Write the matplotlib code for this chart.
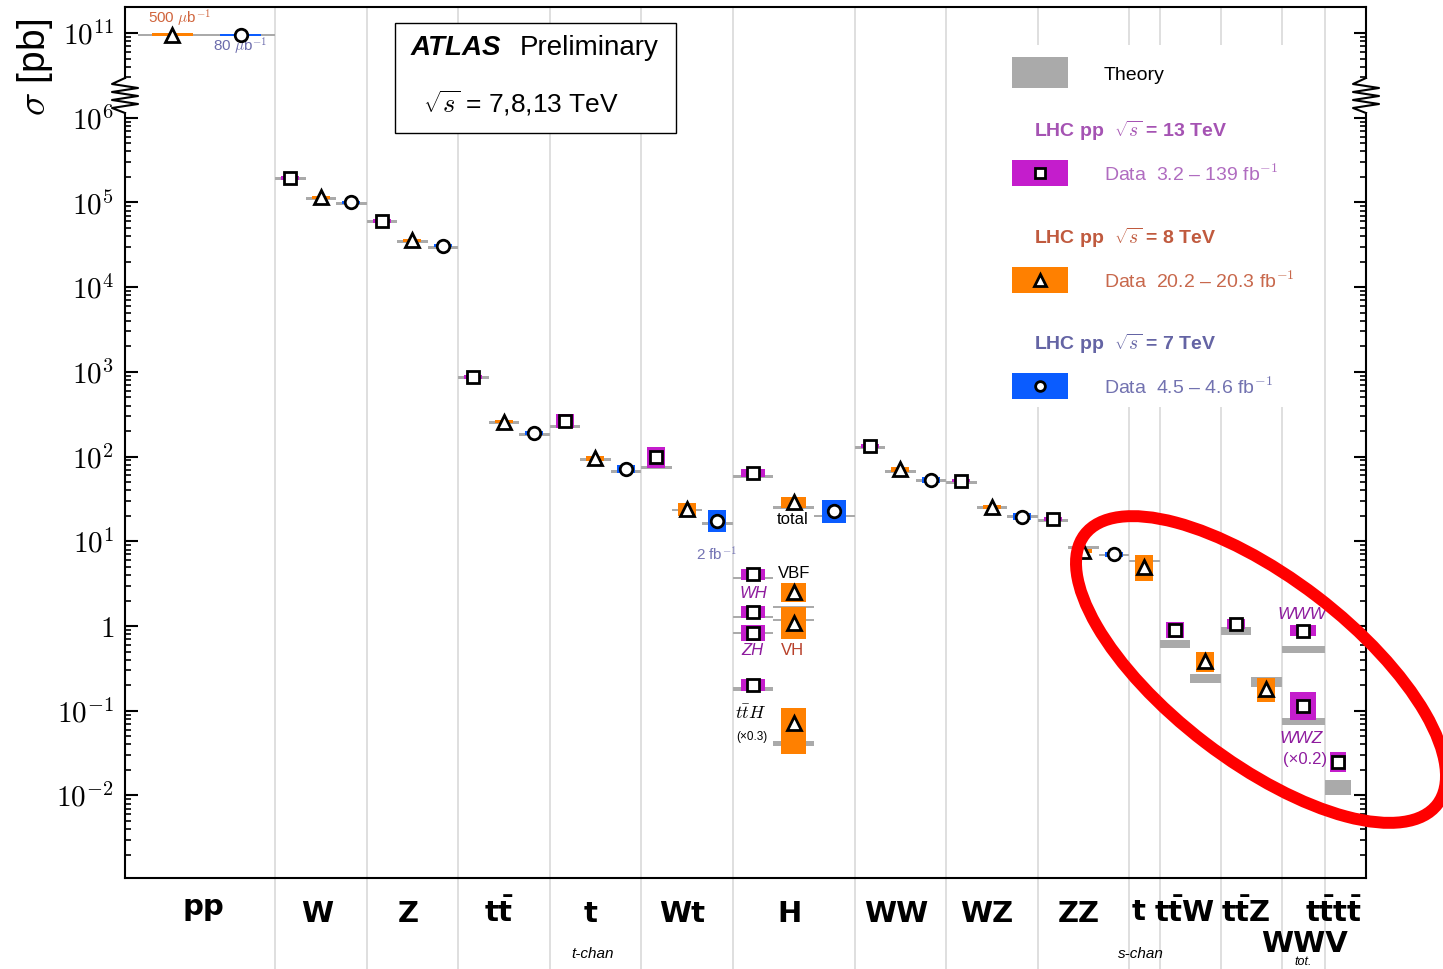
import numpy as np
import matplotlib
matplotlib.use("Agg")
import matplotlib.pyplot as plt
from matplotlib.patches import Rectangle, Ellipse
from matplotlib.lines import Line2D
from matplotlib.transforms import Affine2D
from matplotlib.ticker import FixedLocator, FixedFormatter, NullFormatter

plt.rcParams["mathtext.fontset"] = "cm"
plt.rcParams["font.family"] = ["Liberation Sans", "DejaVu Sans"]

DPI = 100
W_PX, H_PX = 1443, 969

THEORY = "#aaaaaa"
C13, C8, C7 = "#c41dcc", "#ff8000", "#0a5cff"

# x layout: process columns (left, right, number of slots), x unit ~30.5 px
COLS = {
    "pp": (0.43, 4.92, 2), "W": (4.92, 7.92, 3), "Z": (7.92, 10.92, 3),
    "tt": (10.92, 13.92, 3), "t": (13.92, 16.92, 3), "Wt": (16.92, 19.92, 3),
    "H": (19.92, 23.92, 3), "WW": (23.92, 26.92, 3), "WZ": (26.92, 29.92, 3),
    "ZZ": (29.92, 32.92, 3), "ts": (32.92, 33.92, 1), "ttW": (33.92, 35.92, 2),
    "ttZ": (35.92, 37.92, 2), "WWV": (37.92, 39.33, 1), "tttt": (39.33, 40.2, 1),
}
SEPARATORS = [4.92, 7.92, 10.92, 13.92, 16.92, 19.92, 23.92, 26.92, 29.92,
              32.92, 33.92, 35.92, 37.92, 39.33]

# 13 TeV (squares) -- cross sections in pb, relative band sizes
proc13 = ["W", "Z", "tt", "t", "Wt", "H", "H", "H", "H", "H",
          "WW", "WZ", "ZZ", "ttW", "ttZ", "WWV", "WWV", "tttt"]
sig13 = [1.95e5, 6.0e4, 870, 264, 98, 64.6, 4.1, 1.47, 0.83, 0.20,
         134, 52, 18.2, 0.90, 1.06, 0.88, 0.114, 0.025]
up13 = [0.05, 0.05, 0.05, 0.2, 0.33, 0.115, 0.16, 0.17, 0.25, 0.18,
        0.05, 0.05, 0.05, 0.25, 0.145, 0.17, 0.45, 0.31]
dn13 = up13
th13 = [1.93e5, 5.9e4, 860, 224, 75, 58, 3.66, 1.27, 0.83, 0.18,
        128, 50, 17.5, 0.62, 0.87, 0.53, 0.074, 0.0123]
the13 = [0.04, 0.04, 0.04, 0.04, 0.04, 0.04, 0.03, 0.03, 0.03, 0.055,
         0.04, 0.04, 0.04, 0.115, 0.12, 0.095, 0.095, 0.22]

# 8 TeV (triangles)
proc8 = ["pp", "W", "Z", "tt", "t", "Wt", "H", "H", "H", "H",
         "WW", "WZ", "ZZ", "ts", "ttW", "ttZ"]
sig8 = [9.6e10, 1.15e5, 3.6e4, 258, 95, 23.8, 28.9, 2.5, 1.09, 0.071,
        71, 25.5, 7.7, 5.0, 0.386, 0.18]
up8 = [0.04, 0.04, 0.04, 0.04, 0.06, 0.19, 0.16, 0.29, 0.55, 0.51,
       0.07, 0.06, 0.05, 0.38, 0.27, 0.36]
dn8 = [0.04, 0.04, 0.04, 0.04, 0.06, 0.19, 0.16, 0.29, 0.55, 1.32,
       0.07, 0.06, 0.05, 0.46, 0.34, 0.41]
th8 = [9.5e10, 1.12e5, 3.5e4, 255, 93, 23.4, 25, 1.69, 1.18, 0.041,
       67.5, 25, 8.5, 5.85, 0.24, 0.22]
the8 = [0.03, 0.04, 0.04, 0.04, 0.04, 0.04, 0.04, 0.03, 0.03, 0.06,
        0.04, 0.04, 0.04, 0.04, 0.145, 0.145]

# 7 TeV (circles)
proc7 = ["pp", "W", "Z", "tt", "t", "Wt", "H", "WW", "WZ", "ZZ"]
sig7 = [9.5e10, 1.0e5, 3.1e4, 190, 71, 17.4, 23, 53, 19.5, 7.07]
up7 = [0.04, 0.04, 0.04, 0.05, 0.12, 0.34, 0.33, 0.095, 0.1, 0.07]
dn7 = [0.04, 0.04, 0.04, 0.05, 0.12, 0.34, 0.39, 0.095, 0.1, 0.07]
th7 = [9.5e10, 9.8e4, 2.97e4, 184, 67.5, 16.4, 19.9, 51.6, 19.5, 6.9]
the7 = [0.03, 0.04, 0.04, 0.04, 0.04, 0.04, 0.04, 0.04, 0.04, 0.04]

slots13 = [0] * len(proc13)
slots8 = [0 if p in ("pp", "ts") else 1 for p in proc8]
slots7 = [1 if p == "pp" else 2 for p in proc7]


def fwd(v):
    lv = np.log10(np.maximum(np.asarray(v, float), 1e-300))
    return np.where(lv <= 6, lv, np.where(lv >= 10.4, lv - 4, 6 + (lv - 6) / 11))


def inv(t):
    t = np.clip(np.asarray(t, float), -300, 300)
    return np.where(t <= 6, 10.0 ** t,
                    np.where(t >= 6.4, 10.0 ** (t + 4), 10.0 ** (6 + (t - 6) * 11)))


def draw_set(ax, procs, slots, sig, up, dn, th, the, color, marker, ms):
    xs, ws = [], []
    for p, k in zip(procs, slots):
        lo, hi, n = COLS[p]
        w = (hi - lo) / n
        xs.append(lo + (k + 0.5) * w)
        ws.append(w)
    xs, ws = np.array(xs), np.array(ws)
    sig, up, dn = np.array(sig), np.array(up), np.array(dn)
    th, the = np.array(th), np.array(the)
    ax.bar(xs, th * (1 + the) - th / (1 + the), width=ws, bottom=th / (1 + the),
           color=THEORY, linewidth=0, zorder=2)
    ax.bar(xs, sig * (1 + up) - sig / (1 + dn), width=0.6 * ws, bottom=sig / (1 + dn),
           color=color, linewidth=0, zorder=3)
    ax.plot(xs, sig, ls="none", marker=marker, ms=ms, mfc="white", mec="black",
            mew=2.0, zorder=4)


fig = plt.figure(figsize=(W_PX / DPI, H_PX / DPI), dpi=DPI)
ax = fig.add_axes([125 / W_PX, 1 - 878 / H_PX, 1241 / W_PX, 871 / H_PX])
# pixel transform: (x from left, y from top) in image pixels
PX = Affine2D().scale(1, -1).translate(0, H_PX).scale(1 / DPI) + fig.dpi_scale_trans

ax.set_yscale("function", functions=(fwd, inv))
ax.set_ylim(float(inv(-2.975)), float(inv(7.308)))
ax.set_xlim(0, 40.69)
ax.set_xticks([])

major = [1e-2, 1e-1, 1, 1e1, 1e2, 1e3, 1e4, 1e5, 1e6, 1e11]
major_lbl = [r"$10^{-2}$", r"$10^{-1}$", r"$1$", r"$10^{1}$", r"$10^{2}$", r"$10^{3}$",
             r"$10^{4}$", r"$10^{5}$", r"$10^{6}$", r"$10^{11}$"]
minor = [k * 10.0 ** d for d in range(-3, 6) for k in range(2, 10)]
minor += [k * 1e10 for k in range(3, 10)]
ax.yaxis.set_major_locator(FixedLocator(major))
ax.yaxis.set_major_formatter(FixedFormatter(major_lbl))
ax.yaxis.set_minor_locator(FixedLocator(minor))
ax.yaxis.set_minor_formatter(NullFormatter())
ax.tick_params(axis="y", which="both", direction="in", left=True, right=True,
               labelsize=21, pad=8)
ax.tick_params(axis="y", which="major", length=9, width=1.5)
ax.tick_params(axis="y", which="minor", length=4.5, width=1.2)
for s in ax.spines.values():
    s.set_linewidth(1.5)

ax.vlines(SEPARATORS, -0.1045, 1, transform=ax.get_xaxis_transform(),
          colors="#d9d9d9", linewidth=1.2, zorder=1, clip_on=False)

draw_set(ax, proc13, slots13, sig13, up13, dn13, th13, the13, C13, "s", 8.5)
draw_set(ax, proc8, slots8, sig8, up8, dn8, th8, the8, C8, "^", 10)
draw_set(ax, proc7, slots7, sig7, up7, dn7, th7, the7, C7, "o", 9)

# annotations next to points
ax.text(1.8, 1.47e11, r"500 $\mu$b$^{-1}$", color="#d0643c", fontsize=11, ha="center", va="center")
ax.text(3.77, 6.9e10, r"80 $\mu$b$^{-1}$", color="#6c6cac", fontsize=11, ha="center", va="center")
ax.text(19.38, 6.9, r"2 fb$^{-1}$", color="#7474b4", fontsize=11, ha="center", va="center")
ax.text(21.9, 18.3, "total", fontsize=12, ha="center", va="center")
ax.text(21.4, 4.2, "VBF", fontsize=12, ha="left", va="center")
ax.text(20.59, 2.39, "WH", fontsize=12, style="italic", color="#8e1c9e", ha="center", va="center")
ax.text(20.56, 0.52, "ZH", fontsize=12, style="italic", color="#8e1c9e", ha="center", va="center")
ax.text(21.9, 0.507, "VH", fontsize=12, color="#b8402a", ha="center", va="center")
ax.text(20.5, 0.0914, r"$t\bar{t}H$", fontsize=13, ha="center", va="center")
ax.text(20.56, 0.049, "(×0.3)", fontsize=8.5, ha="center", va="center")
ax.text(38.59, 1.35, "WWW", fontsize=12.5, style="italic", color="#8e1c9e", ha="center", va="center")
ax.text(38.56, 0.0476, "WWZ", fontsize=12.5, style="italic", color="#8e1c9e", ha="center", va="center")
ax.text(38.69, 0.0269, "(×0.2)", fontsize=12, color="#8e1c9e", ha="center", va="center")

# broken axis marks
for xs in (125, 1366):
    fig.add_artist(Rectangle((xs - 3, 79), 6, 33, transform=PX, facecolor="white",
                             edgecolor="none", zorder=5))
    zx = [xs, xs - 13, xs + 13, xs - 13, xs + 13, xs - 13, xs + 13, xs - 13, xs]
    zy = [78, 84, 88, 92, 96, 100, 104, 108, 113]
    fig.add_artist(Line2D(zx, zy, transform=PX, color="black", lw=1.5, zorder=6))

fig.text(35, 67, r"$\sigma$ [pb]", transform=PX, fontsize=28, rotation=90,
         ha="center", va="center")

# process labels under the axis
cat_labels = ["pp", "W", "Z", r"$\mathbf{t\bar{t}}$", "t", "Wt", "H", "WW", "WZ", "ZZ",
              "t", r"$\mathbf{t\bar{t}W}$", r"$\mathbf{t\bar{t}Z}$",
              r"$\mathbf{t\bar{t}t\bar{t}}$", "WWV"]
cat_px = [203, 317, 408, 499, 591, 682, 789, 896, 987, 1079, 1139, 1185, 1246, 1334, 1305]
cat_base = [915, 922, 922, 922, 922, 922, 922, 922, 922, 922, 920, 922, 922, 922, 952]
for lbl, xp, yb in zip(cat_labels, cat_px, cat_base):
    fig.text(xp, yb, lbl, transform=PX, fontsize=21, fontweight="bold",
             family="DejaVu Sans", math_fontfamily="dejavusans",
             ha="center", va="baseline")
for lbl, xp, yb, fs in [("t-chan", 593, 958, 11), ("s-chan", 1141, 958, 11),
                        ("tot.", 1303, 965, 9)]:
    fig.text(xp, yb, lbl, transform=PX, fontsize=fs, style="italic", ha="center", va="baseline")

# ATLAS box
fig.add_artist(Rectangle((395, 23), 281, 110, transform=PX, facecolor="white",
                         edgecolor="black", lw=1.0, zorder=3))
fig.text(411, 48, "ATLAS", transform=PX, fontsize=20, fontweight="bold", style="italic",
         va="center", zorder=4)
fig.text(520, 48, "Preliminary", transform=PX, fontsize=20, va="center", zorder=4)
fig.text(423, 103, r"$\sqrt{s}$ = 7,8,13 TeV", transform=PX, fontsize=19, va="center", zorder=4)

# legend
fig.add_artist(Rectangle((1000, 45), 305, 362, transform=PX, facecolor="white",
                         edgecolor="none", zorder=3))
fig.add_artist(Rectangle((1012, 57), 56, 31, transform=PX, facecolor=THEORY,
                         edgecolor="none", zorder=4))
fig.text(1104, 76, "Theory", transform=PX, fontsize=14, va="center", zorder=4)
legend_rows = [
    (131, r"LHC pp  $\sqrt{s}$ = 13 TeV", "#a553b3", C13, "s", 7,
     r"Data  3.2 – 139 fb$^{-1}$", "#b06cc0"),
    (238, r"LHC pp  $\sqrt{s}$ = 8 TeV", "#c05a3e", C8, "^", 8,
     r"Data  20.2 – 20.3 fb$^{-1}$", "#c8684c"),
    (344, r"LHC pp  $\sqrt{s}$ = 7 TeV", "#6464a4", C7, "o", 7,
     r"Data  4.5 – 4.6 fb$^{-1}$", "#7272b0"),
]
for yh, head, hcol, col, mk, ms, dtxt, dcol in legend_rows:
    fig.text(1034, yh, head, transform=PX, fontsize=14, fontweight="bold", color=hcol,
             va="center", zorder=4)
    ys = yh + 42
    fig.add_artist(Rectangle((1012, ys - 13), 56, 26, transform=PX, facecolor=col,
                             edgecolor="none", zorder=4))
    fig.add_artist(Line2D([1040], [ys], transform=PX, ls="none", marker=mk, ms=ms,
                          mfc="white", mec="black", mew=2.0, zorder=5))
    fig.text(1104, ys + 1, dtxt, transform=PX, fontsize=14, color=dcol, va="center", zorder=4)

# red highlight ellipse
fig.add_artist(Ellipse((1261, 669.5), 444, 184, angle=37.4, transform=PX, fill=False,
                       edgecolor="#ff0000", lw=8.6, zorder=10))

fig.savefig("out.png", dpi=DPI)
